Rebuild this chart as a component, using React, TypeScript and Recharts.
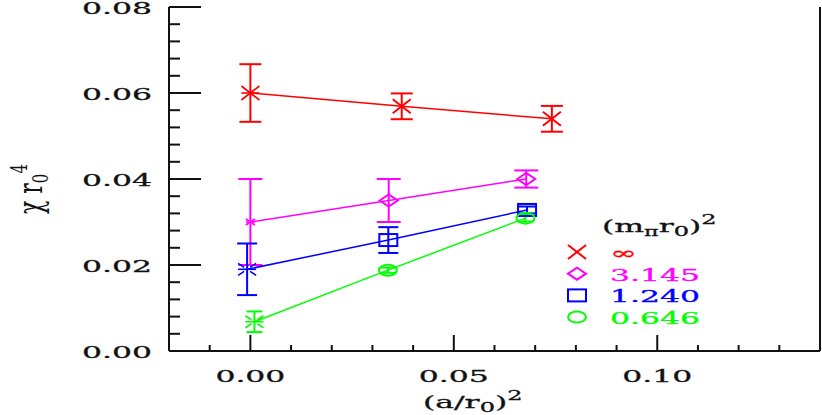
import { ErrorBar, Label, Scatter, ScatterChart, XAxis, YAxis } from "recharts";

// lattice spacing (a/r0)^2 on x, topological susceptibility chi*r0^4 on y
const xTicks = [-0.02, -0.01, 0, 0.01, 0.02, 0.03, 0.04, 0.05, 0.06, 0.07, 0.08, 0.09, 0.1, 0.11, 0.12, 0.13, 0.14];
const xMajorTicks = [0, 0.05, 0.1];
const yTicks = [0, 0.004, 0.008, 0.012, 0.016, 0.02, 0.024, 0.028, 0.032, 0.036, 0.04, 0.044, 0.048, 0.052, 0.056, 0.06, 0.064, 0.068, 0.072, 0.076, 0.08];
const yMajorTicks = [0, 0.02, 0.04, 0.06, 0.08];

const legendLabels = ["∞", "3.145", "1.240", "0.646"];

const spacingInf = [0.0, 0.0372, 0.0741];
const chiInf = [0.06, 0.0569, 0.054];
const errInf = [0.0067, 0.003, 0.003];

const spacing3145 = [0.0, 0.034, 0.0678];
const chi3145 = [0.03, 0.035, 0.04];
const err3145 = [0.01, 0.005, 0.002];

const spacing1240 = [-0.0008, 0.0339, 0.068];
const chi1240 = [0.019, 0.0258, 0.0328];
const err1240 = [0.006, 0.003, 0.0008];

const spacing0646 = [0.001, 0.0338, 0.0676];
const chi0646 = [0.0068, 0.0188, 0.0309];
const err0646 = [0.0024, 0.0006, 0.0008];

const toPoints = (xs: number[], ys: number[], errs: number[]) =>
  xs.map((x, i) => ({ x, y: ys[i], err: errs[i] }));

type Kind = "cross" | "diamond" | "square" | "circle";

const series: { label: string; color: string; kind: Kind; cap: number; data: { x: number; y: number; err: number }[] }[] = [
  { label: legendLabels[0], color: "#ff0000", kind: "cross", cap: 11, data: toPoints(spacingInf, chiInf, errInf) },
  { label: legendLabels[1], color: "#ff00ff", kind: "diamond", cap: 12, data: toPoints(spacing3145, chi3145, err3145) },
  { label: legendLabels[2], color: "#0000ff", kind: "square", cap: 10, data: toPoints(spacing1240, chi1240, err1240) },
  { label: legendLabels[3], color: "#00ff00", kind: "circle", cap: 8, data: toPoints(spacing0646, chi0646, err0646) },
];

const FONT = "'DejaVu Serif', serif";
const SX = 1.85;
const INK = "#111";

const isMajor = (v: number, majors: number[]) => majors.some((m) => Math.abs(m - v) < 1e-9);

function WideText({ x, y, anchor = "start", fill = INK, size = 17, children }: any) {
  return (
    <text
      transform={`translate(${x},${y}) scale(${SX},1)`}
      textAnchor={anchor}
      fontFamily={FONT}
      fontSize={size}
      fill={fill}
      stroke={fill}
      strokeWidth={0.3}
    >
      {children}
    </text>
  );
}

function MarkerGlyph({ cx, cy, kind, color, sw = 2 }: { cx: number; cy: number; kind: Kind; color: string; sw?: number }) {
  const common = { stroke: color, strokeWidth: sw, fill: "none" };
  if (kind === "cross")
    return (
      <g {...common}>
        <line x1={cx - 9} y1={cy - 7} x2={cx + 9} y2={cy + 7} />
        <line x1={cx - 9} y1={cy + 7} x2={cx + 9} y2={cy - 7} />
      </g>
    );
  if (kind === "diamond")
    return <polygon {...common} points={`${cx - 9},${cy} ${cx},${cy - 6} ${cx + 9},${cy} ${cx},${cy + 6}`} />;
  if (kind === "square") return <rect {...common} x={cx - 9} y={cy - 6} width={18} height={12} />;
  return <ellipse {...common} cx={cx} cy={cy} rx={9} ry={5.5} />;
}

// continuum-extrapolated points (a -> 0) use a burst symbol
function Burst({ cx, cy, color, s }: { cx: number; cy: number; color: string; s: number }) {
  return (
    <g stroke={color} strokeWidth={1.6} fill="none">
      <line x1={cx - 9 * s} y1={cy} x2={cx + 9 * s} y2={cy} />
      <line x1={cx - 3 * s} y1={cy - 2 * s} x2={cx - 9 * s} y2={cy - 6 * s} />
      <line x1={cx + 3 * s} y1={cy - 2 * s} x2={cx + 9 * s} y2={cy - 6 * s} />
      <line x1={cx - 3 * s} y1={cy + 2 * s} x2={cx - 9 * s} y2={cy + 6 * s} />
      <line x1={cx + 3 * s} y1={cy + 2 * s} x2={cx + 9 * s} y2={cy + 6 * s} />
    </g>
  );
}

function makeShape(kind: Kind, color: string) {
  return (p: any) => {
    const { cx, cy, payload } = p;
    if (Math.abs(payload.x) < 0.005) {
      if (kind === "cross")
        return (
          <g>
            <MarkerGlyph cx={cx} cy={cy} kind="cross" color={color} sw={1.6} />
            <line x1={cx - 9} y1={cy} x2={cx + 9} y2={cy} stroke={color} strokeWidth={1.6} />
          </g>
        );
      return <Burst cx={cx} cy={cy} color={color} s={kind === "diamond" ? 0.5 : 1} />;
    }
    return <MarkerGlyph cx={cx} cy={cy} kind={kind} color={color} />;
  };
}

function BottomTick({ x, y, payload }: any) {
  const major = isMajor(payload.value, xMajorTicks);
  return (
    <g>
      <line x1={x} x2={x} y1={y} y2={y - (major ? 16 : 6)} stroke={INK} strokeWidth={2} />
      {major && (
        <WideText x={x} y={y + 31} anchor="middle">
          {payload.value.toFixed(2)}
        </WideText>
      )}
    </g>
  );
}

function TopTick({ x, y, payload }: any) {
  const major = isMajor(payload.value, xMajorTicks);
  return <line x1={x} x2={x} y1={y} y2={y + (major ? 16 : 5)} stroke={INK} strokeWidth={2} />;
}

function LeftTick({ x, y, payload }: any) {
  const major = isMajor(payload.value, yMajorTicks);
  return (
    <g>
      <line x1={x} x2={x + (major ? 32 : 11)} y1={y} y2={y} stroke={INK} strokeWidth={2} />
      {major && (
        <WideText x={x - 17} y={y + 7} anchor="end">
          {payload.value.toFixed(2)}
        </WideText>
      )}
    </g>
  );
}

function RightTick({ x, y, payload }: any) {
  const major = isMajor(payload.value, yMajorTicks);
  return <line x1={x} x2={x - (major ? 32 : 10)} y1={y} y2={y} stroke={INK} strokeWidth={2} />;
}

function XTitle({ viewBox }: any) {
  const x = viewBox.x + 254;
  const y = viewBox.y + 57;
  return (
    <WideText x={x} y={y}>
      (a/r
      <tspan fontSize={13} dy={4}>0</tspan>
      <tspan dy={-4}>)</tspan>
      <tspan fontSize={13} dy={-8}>2</tspan>
    </WideText>
  );
}

function YTitle() {
  return (
    <text
      transform="translate(42,214) rotate(-90) scale(1,1.5)"
      fontFamily={FONT}
      fontSize={22}
      fill={INK}
    >
      χ r
      <tspan fontSize={15} dy={4}>0</tspan>
      <tspan fontSize={15} dy={-14}>4</tspan>
    </text>
  );
}

function LegendBox() {
  return (
    <svg width={822} height={415} style={{ position: "absolute", left: 0, top: 0, pointerEvents: "none" }}>
      <WideText x={602} y={232}>
        (m
        <tspan fontSize={12} dy={4}>π</tspan>
        <tspan dy={-4}>r</tspan>
        <tspan fontSize={13} dy={4}>0</tspan>
        <tspan dy={-4}>)</tspan>
        <tspan fontSize={13} dy={-8}>2</tspan>
      </WideText>
      {series.map((s, i) => {
        const base = 259 + i * 21.7;
        return (
          <g key={s.label}>
            <MarkerGlyph cx={577} cy={base - 7} kind={s.kind} color={s.color} />
            <WideText x={610} y={base} fill={s.color}>
              {s.label}
            </WideText>
          </g>
        );
      })}
    </svg>
  );
}

export default function App() {
  return (
    <div style={{ position: "absolute", left: 0, top: 0, width: 822, height: 415, background: "#fff" }}>
      <ScatterChart width={822} height={415} margin={{ top: 7, right: 0, bottom: 0, left: 0 }}>
        <XAxis
          type="number"
          dataKey="x"
          domain={[-0.02, 0.14]}
          ticks={xTicks}
          interval={0}
          tickSize={0}
          tickMargin={0}
          tickLine={false}
          tick={<BottomTick />}
          axisLine={{ stroke: INK, strokeWidth: 2 }}
          height={64}
        >
          <Label content={<XTitle />} />
        </XAxis>
        <XAxis
          xAxisId="top"
          orientation="top"
          type="number"
          domain={[-0.02, 0.14]}
          ticks={xTicks}
          interval={0}
          tickSize={0}
          tickMargin={0}
          tickLine={false}
          tick={<TopTick />}
          axisLine={{ stroke: INK, strokeWidth: 2 }}
          height={0}
        />
        <YAxis
          type="number"
          dataKey="y"
          domain={[0, 0.08]}
          ticks={yTicks}
          interval={0}
          tickSize={0}
          tickMargin={0}
          tickLine={false}
          tick={<LeftTick />}
          axisLine={{ stroke: INK, strokeWidth: 2 }}
          width={169}
        />
        <YAxis
          yAxisId="right"
          orientation="right"
          type="number"
          domain={[0, 0.08]}
          ticks={yTicks}
          interval={0}
          tickSize={0}
          tickMargin={0}
          tickLine={false}
          tick={<RightTick />}
          axisLine={{ stroke: INK, strokeWidth: 2 }}
          width={2}
        />
        {series.map((s) => (
          <Scatter
            key={s.label}
            name={s.label}
            data={s.data}
            line={{ stroke: s.color, strokeWidth: 1.5 }}
            shape={makeShape(s.kind, s.color)}
            isAnimationActive={false}
          >
            <ErrorBar dataKey="err" direction="y" width={s.cap} stroke={s.color} strokeWidth={2} />
          </Scatter>
        ))}
      </ScatterChart>
      <svg width={822} height={415} style={{ position: "absolute", left: 0, top: 0, pointerEvents: "none" }}>
        <YTitle />
      </svg>
      <LegendBox />
    </div>
  );
}
